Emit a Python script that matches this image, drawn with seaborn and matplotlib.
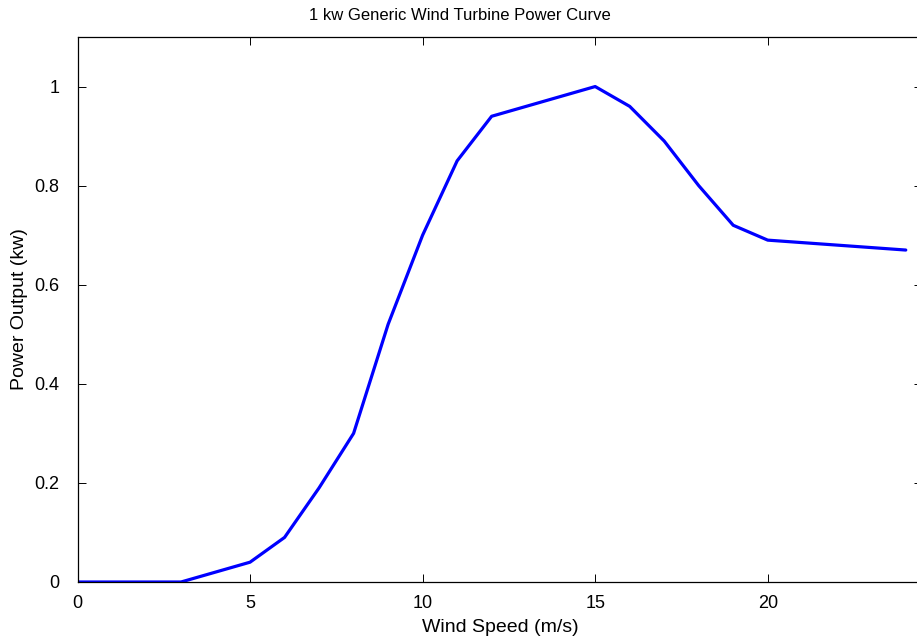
import matplotlib
matplotlib.use("Agg")
import matplotlib.pyplot as plt
import seaborn as sns
import pandas as pd

wind_speed = [0, 1, 2, 3, 4, 5, 6, 7, 8, 9, 10, 11, 12, 13, 14, 15, 16, 17, 18, 19, 20, 21, 22, 23, 24]
power_kw = [0, 0, 0, 0, 0.02, 0.04, 0.09, 0.19, 0.30, 0.52, 0.70, 0.85, 0.94, 0.96, 0.98, 1.00,
            0.96, 0.89, 0.80, 0.72, 0.69, 0.685, 0.68, 0.675, 0.67]
x_ticks = [0, 5, 10, 15, 20]
y_ticks = [0, 0.2, 0.4, 0.6, 0.8, 1.0]
y_tick_labels = ["0", "0.2", "0.4", "0.6", "0.8", "1"]

sns.set_style("white")
plt.rcParams['font.family'] = ['Liberation Sans', 'DejaVu Sans']
plt.rcParams['text.color'] = 'black'
plt.rcParams['axes.labelcolor'] = 'black'

df = pd.DataFrame({"Wind Speed (m/s)": wind_speed, "Power Output (kw)": power_kw})

fig = plt.figure(figsize=(9.17, 6.43), dpi=100)
ax_w = (922 - 77.5) / 917
ax_h = (582 - 37) / 643
ax = fig.add_axes([77.5 / 917, 61 / 643, ax_w, ax_h])

sns.lineplot(data=df, x="Wind Speed (m/s)", y="Power Output (kw)", ax=ax,
             color=(0, 0, 1), linewidth=2.3)

ax.set_xlim(0, 24.47)
ax.set_ylim(0, 1.1)
ax.set_xticks(x_ticks)
ax.set_xticklabels([str(t) for t in x_ticks])
ax.set_yticks(y_ticks)
ax.set_yticklabels(y_tick_labels)

for s in ax.spines.values():
    s.set_visible(True)
    s.set_color("black")
    s.set_linewidth(0.9)

ax.tick_params(direction="in", length=6, width=0.7, colors="black",
               top=True, right=True, bottom=True, left=True,
               labelsize=13)
ax.tick_params(axis="x", pad=9)
ax.tick_params(axis="y", pad=13)
ax.set_xlabel("Wind Speed (m/s)", fontsize=14, color="black")
ax.set_ylabel("Power Output (kw)", fontsize=14, color="black")
ax.xaxis.set_label_coords((500 - 77.5) / 844.5, -(619 - 582) / 545)
ax.yaxis.set_label_coords((28 - 77.5) / 844.5, 0.5)
ax.set_title("1 kw Generic Wind Turbine Power Curve", fontsize=12, color="black",
             x=(460 - 77.5) / 844.5, pad=12)

fig.savefig("out.png", dpi=100, facecolor="white")
